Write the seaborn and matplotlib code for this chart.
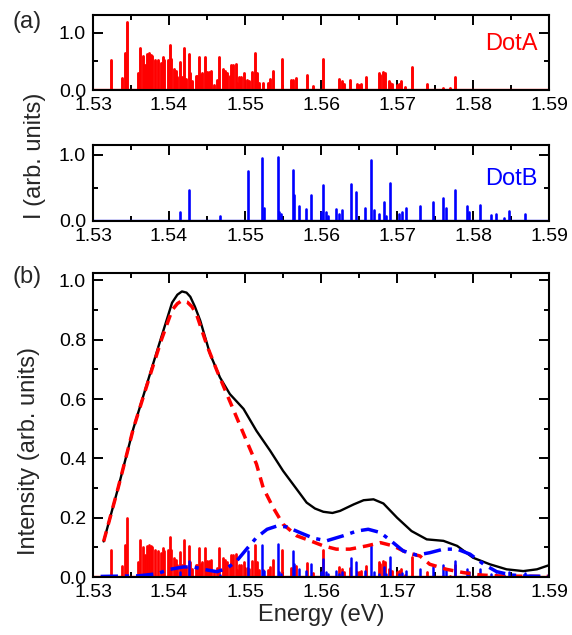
import numpy as np
import pandas as pd
import matplotlib
matplotlib.use("Agg")
import matplotlib.pyplot as plt
import seaborn as sns
from matplotlib.ticker import MultipleLocator

# ---- stick spectra (energy in eV, relative intensity) ----
dot_a_energy = [1.5324, 1.5338, 1.5342, 1.5345, 1.5359, 1.5362, 1.5366, 1.5368, 1.5371,
                1.5374, 1.5376, 1.5378, 1.5382, 1.5385, 1.5390, 1.5392, 1.5394, 1.5398,
                1.5401, 1.5403, 1.5406, 1.5409, 1.5411, 1.5415, 1.5417, 1.5420, 1.5422,
                1.5426, 1.5428, 1.5430, 1.5435, 1.5437, 1.5439, 1.5442, 1.5444, 1.5447,
                1.5450, 1.5453, 1.5455, 1.5459, 1.5463, 1.5466, 1.5471, 1.5474, 1.5476,
                1.5480, 1.5482, 1.5484, 1.5488, 1.5490, 1.5492, 1.5495, 1.5498, 1.5502,
                1.5505, 1.5509, 1.5513, 1.5516, 1.5519, 1.5524, 1.5530, 1.5533, 1.5537,
                1.5548, 1.5561, 1.5563, 1.5567, 1.5581, 1.5589, 1.5602, 1.5623, 1.5627,
                1.5630, 1.5638, 1.5647, 1.5650, 1.5653, 1.5659, 1.5676, 1.5678, 1.5681,
                1.5684, 1.5689, 1.5691, 1.5693, 1.5700, 1.5702, 1.5705, 1.5710, 1.5720,
                1.5740, 1.5761, 1.5769, 1.5776]
dot_a_intensity = [0.53, 0.21, 0.64, 1.18, 0.29, 0.74, 0.60, 0.44, 0.62,
                   0.64, 0.61, 0.60, 0.53, 0.52, 0.47, 0.57, 0.52, 0.53,
                   0.79, 0.54, 0.37, 0.33, 0.23, 0.49, 0.23, 0.74, 0.20,
                   0.62, 0.30, 0.16, 0.24, 0.24, 0.57, 0.26, 0.29, 0.57,
                   0.32, 0.32, 0.33, 0.09, 0.17, 0.57, 0.37, 0.34, 0.30,
                   0.24, 0.44, 0.44, 0.45, 0.13, 0.23, 0.23, 0.29, 0.17,
                   0.16, 0.32, 0.64, 0.29, 0.13, 0.13, 0.13, 0.20, 0.34,
                   0.54, 0.17, 0.17, 0.21, 0.27, 0.07, 0.54, 0.20, 0.16,
                   0.10, 0.17, 0.10, 0.09, 0.11, 0.22, 0.29, 0.26, 0.32,
                   0.29, 0.16, 0.13, 0.11, 0.09, 0.11, 0.16, 0.05, 0.40,
                   0.10, 0.03, 0.03, 0.23]

dot_b_energy = [1.5414, 1.5426, 1.5467, 1.5504, 1.5522, 1.5525, 1.5543, 1.5545, 1.5547,
                1.5563, 1.5565, 1.5571, 1.5580, 1.5587, 1.5600, 1.5602, 1.5606, 1.5609,
                1.5620, 1.5624, 1.5628, 1.5639, 1.5646, 1.5658, 1.5666, 1.5669, 1.5676,
                1.5683, 1.5686, 1.5691, 1.5703, 1.5706, 1.5712, 1.5730, 1.5747, 1.5761,
                1.5764, 1.5776, 1.5792, 1.5795, 1.5809, 1.5823, 1.5830, 1.5841, 1.5847,
                1.5868]
dot_b_intensity = [0.14, 0.47, 0.07, 0.76, 0.95, 0.19, 0.96, 0.14, 0.10,
                   0.77, 0.39, 0.23, 0.18, 0.39, 0.14, 0.54, 0.14, 0.08,
                   0.18, 0.10, 0.16, 0.56, 0.43, 0.19, 0.92, 0.16, 0.10,
                   0.28, 0.08, 0.58, 0.10, 0.13, 0.19, 0.23, 0.28, 0.35,
                   0.20, 0.46, 0.23, 0.14, 0.24, 0.09, 0.10, 0.05, 0.15,
                   0.11]

# scale of the stick spectra when overlaid on the ensemble spectrum
dot_a_scale = 0.17
dot_b_scale = 0.115

# ---- broadened spectra ----
total_energy = [1.5314, 1.5333, 1.5353, 1.5375, 1.5390, 1.5404, 1.5411, 1.5417, 1.5423,
                1.5428, 1.5434, 1.5441, 1.5454, 1.5467, 1.5480, 1.5498, 1.5515, 1.5533,
                1.5550, 1.5568, 1.5581, 1.5592, 1.5603, 1.5615, 1.5625, 1.5643, 1.5656,
                1.5669, 1.5682, 1.5700, 1.5719, 1.5739, 1.5761, 1.5779, 1.5800, 1.5822,
                1.5844, 1.5866, 1.5884, 1.5900]
total_intensity = [0.12, 0.30, 0.50, 0.685, 0.81, 0.925, 0.952, 0.963, 0.959,
                   0.945, 0.912, 0.865, 0.752, 0.673, 0.617, 0.567, 0.493, 0.426,
                   0.358, 0.296, 0.251, 0.231, 0.220, 0.216, 0.223, 0.245, 0.259,
                   0.262, 0.248, 0.200, 0.155, 0.127, 0.122, 0.105, 0.065, 0.043,
                   0.026, 0.020, 0.026, 0.040]

dot_a_env_energy = [1.5314, 1.5333, 1.5353, 1.5375, 1.5390, 1.5404, 1.5411, 1.5417, 1.5424,
                    1.5430, 1.5436, 1.5450, 1.5463, 1.5476, 1.5489, 1.5502, 1.5515, 1.5524,
                    1.5537, 1.5550, 1.5568, 1.5586, 1.5603, 1.5620, 1.5638, 1.5660, 1.5678,
                    1.5695, 1.5713, 1.5730, 1.5743, 1.5765, 1.5787, 1.5809, 1.5830, 1.5850,
                    1.5900]
dot_a_env_intensity = [0.12, 0.30, 0.50, 0.68, 0.80, 0.900, 0.922, 0.932, 0.927,
                       0.912, 0.887, 0.78, 0.696, 0.617, 0.538, 0.459, 0.381, 0.300,
                       0.234, 0.178, 0.139, 0.122, 0.105, 0.094, 0.094, 0.105, 0.116,
                       0.105, 0.082, 0.071, 0.043, 0.026, 0.015, 0.007, 0.004, 0.003,
                       0.002]

dot_b_env_energy = [1.5310, 1.5360, 1.5384, 1.5401, 1.5419, 1.5432, 1.5445, 1.5463, 1.5476,
                    1.5489, 1.5502, 1.5515, 1.5529, 1.5542, 1.5555, 1.5572, 1.5590, 1.5607,
                    1.5629, 1.5647, 1.5662, 1.5678, 1.5691, 1.5708, 1.5726, 1.5743, 1.5761,
                    1.5779, 1.5796, 1.5814, 1.5831, 1.5850, 1.5870, 1.5900]
dot_b_env_intensity = [0.002, 0.004, 0.011, 0.026, 0.034, 0.034, 0.026, 0.018, 0.029,
                       0.054, 0.094, 0.133, 0.161, 0.172, 0.169, 0.150, 0.131, 0.122,
                       0.139, 0.155, 0.161, 0.150, 0.124, 0.088, 0.074, 0.082, 0.094,
                       0.094, 0.077, 0.043, 0.018, 0.007, 0.003, 0.002]

x_ticks = [1.53, 1.54, 1.55, 1.56, 1.57, 1.58, 1.59]

RED = "#ff0000"
BLUE = "#0000ff"

sns.set_theme(style="ticks")
plt.rcParams.update({
    "font.family": ["Liberation Sans", "DejaVu Sans"],
    "xtick.direction": "in", "ytick.direction": "in",
    "xtick.top": True, "ytick.right": True,
    "xtick.major.size": 7, "ytick.major.size": 7,
    "xtick.minor.size": 3.6, "ytick.minor.size": 3.6,
    "xtick.major.width": 1.4, "ytick.major.width": 1.4,
    "xtick.minor.width": 1.4, "ytick.minor.width": 1.4,
    "xtick.labelsize": 14, "ytick.labelsize": 14,
    "axes.linewidth": 1.5, "axes.edgecolor": "black",
    "xtick.color": "black", "ytick.color": "black",
})


def draw_sticks(ax, energy, height, color, lw):
    n = len(energy)
    frame = pd.DataFrame({
        "energy": np.repeat(energy, 2),
        "intensity": np.column_stack([np.zeros(n), np.asarray(height)]).ravel(),
        "line": np.repeat(np.arange(n), 2),
    })
    sns.lineplot(data=frame, x="energy", y="intensity", units="line",
                 estimator=None, sort=False, color=color, lw=lw, ax=ax,
                 legend=False)


def style_axis(ax, ymax, yticks, yminor):
    ax.set_xlim(x_ticks[0], x_ticks[-1])
    ax.set_ylim(0, ymax)
    ax.set_xticks(x_ticks)
    ax.set_xticklabels([f"{v:.2f}" for v in x_ticks])
    ax.xaxis.set_minor_locator(MultipleLocator(0.005))
    ax.set_yticks(yticks)
    ax.set_yticklabels([f"{v:.1f}" for v in yticks])
    ax.yaxis.set_minor_locator(MultipleLocator(yminor))
    ax.tick_params(which="both", top=True, right=True, pad=5)
    ax.set_xlabel("")
    ax.set_ylabel("")
    for s in ax.spines.values():
        s.set_visible(True)
        s.set_zorder(5)


fig = plt.figure(figsize=(5.72, 6.35), dpi=100)
left, width = 0.1626, 0.7974
ax_a = fig.add_axes([left, 0.858, width, 0.118])
ax_b = fig.add_axes([left, 0.652, width, 0.120])
ax_c = fig.add_axes([left, 0.0913, width, 0.4787])

# (a) Dot A
draw_sticks(ax_a, dot_a_energy, dot_a_intensity, RED, 2.1)
ax_a.axhline(0, color=RED, lw=2.4, zorder=3)
style_axis(ax_a, 1.3, [0.0, 1.0], 0.5)
ax_a.text(0.975, 0.62, "DotA", color=RED, fontsize=17, ha="right",
          va="center", transform=ax_a.transAxes)

# (a) Dot B
draw_sticks(ax_b, dot_b_energy, dot_b_intensity, BLUE, 1.9)
ax_b.axhline(0, color=BLUE, lw=2.4, zorder=3)
style_axis(ax_b, 1.15, [0.0, 1.0], 0.5)
ax_b.text(0.975, 0.55, "DotB", color=BLUE, fontsize=17, ha="right",
          va="center", transform=ax_b.transAxes)

# (b) ensemble spectrum with both dots
draw_sticks(ax_c, dot_a_energy, np.asarray(dot_a_intensity) * dot_a_scale, RED, 2.0)
ax_c.axhline(0, color=RED, lw=2.4, zorder=2)
draw_sticks(ax_c, dot_b_energy, np.asarray(dot_b_intensity) * dot_b_scale, BLUE, 1.8)
ax_c.axhline(0, color=BLUE, lw=2.0, zorder=2.5)
sns.lineplot(x=total_energy, y=total_intensity, color="black", lw=1.7,
             ax=ax_c, sort=False)
sns.lineplot(x=dot_a_env_energy, y=dot_a_env_intensity, color=RED, lw=2.5,
             ax=ax_c, sort=False)
ax_c.lines[-1].set_dashes([3, 2])
sns.lineplot(x=dot_b_env_energy, y=dot_b_env_intensity, color=BLUE, lw=2.5,
             ax=ax_c, sort=False)
ax_c.lines[-1].set_dashes([5, 2, 1.2, 2])
for ln in ax_c.lines[-3:]:
    ln.set_solid_joinstyle("round")
    ln.set_dash_joinstyle("round")
style_axis(ax_c, 1.025, [0.0, 0.2, 0.4, 0.6, 0.8, 1.0], 0.1)
ax_c.set_xlabel("Energy (eV)", fontsize=17, labelpad=2)

fig.text(0.062, 0.755, "I (arb. units)", rotation=90, fontsize=17,
         ha="center", va="center")
fig.text(0.050, 0.290, "Intensity (arb. units)", rotation=90, fontsize=17,
         ha="center", va="center")
fig.text(0.022, 0.965, "(a)", fontsize=17, ha="left", va="center")
fig.text(0.022, 0.563, "(b)", fontsize=17, ha="left", va="center")

fig.savefig("out.png", dpi=100)
